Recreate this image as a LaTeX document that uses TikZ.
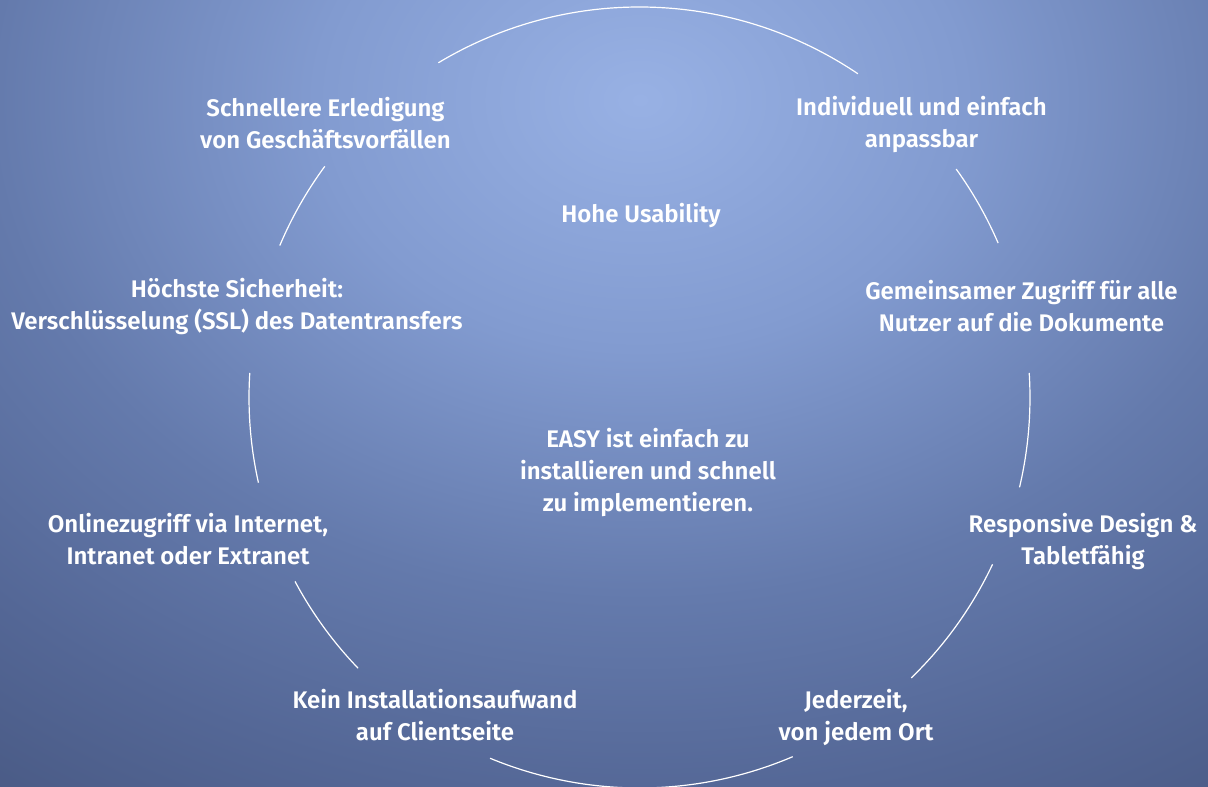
\documentclass[tikz,border=0pt]{standalone}
\usepackage{fontspec}
\setmainfont{Fira Sans SemiBold}
\definecolor{bgA}{RGB}{152,177,228}
\definecolor{bgB}{RGB}{130,155,208}
\definecolor{bgC}{RGB}{100,122,172}
\definecolor{bgD}{RGB}{84,103,150}
\definecolor{bgE}{RGB}{74,91,134}
\pgfdeclareradialshading{bgshade}{\pgfpoint{0bp}{0bp}}{color(0bp)=(bgA); color(6.25bp)=(bgB); color(12.5bp)=(bgC); color(17.5bp)=(bgD); color(21.25bp)=(bgE); color(50bp)=(bgE)}
\tikzset{
  lbl/.style={text=white, align=center, font=\fontsize{18}{24}\selectfont, inner sep=0pt},
  ring/.style={draw=white, line width=0.9pt}
}
\begin{document}
\begin{tikzpicture}[x=0.75pt,y=-0.75pt]
\useasboundingbox (0,0) rectangle (1208,787);
\begin{scope}
  \clip (0,0) rectangle (1208,787);
  \shade[shading=bgshade] (640,100) ellipse[x radius=1300, y radius=1000];
\end{scope}
\coordinate (C) at (639.5,397.5);
% ring segments (visual angles a1 -> a2, y flipped)
\foreach \a/\b in {56/121, 143.7/157.1, 176.4/192.6, 208.1/223.9, 247.5/293.1, 314.1/334.7, 346.7/363.6, 23.3/35.8}{
  \draw[ring] (C) ++(-\a:390.5) arc[start angle=-\a, end angle=-\b, radius=390.5];
}
\node[lbl] (schnell) at (325.5,123) {Schnellere Erledigung\\von Geschäftsvorfällen};
\node[lbl] (indiv) at (921.5,125) {Individuell und einfach\\anpassbar};
\node[lbl] (usab) at (641,216) {Hohe Usability};
\node[lbl] (sicher) at (237,307) {Höchste Sicherheit:\\Verschlüsselung (SSL) des Datentransfers};
\node[lbl] (gemein) at (1021.5,306) {Gemeinsamer Zugriff für alle\\Nutzer auf die Dokumente};
\node[lbl] (easy) at (648,473) {EASY ist einfach zu\\installieren und schnell\\zu implementieren.};
\node[lbl] (online) at (188,539) {Onlinezugriff via Internet,\\Intranet oder Extranet};
\node[lbl] (resp) at (1083,542) {Responsive Design \&\\Tabletfähig};
\node[lbl] (kein) at (435,715) {Kein Installationsaufwand\\auf Clientseite};
\node[lbl] (jeder) at (856,717) {Jederzeit,\\von jedem Ort};
\end{tikzpicture}
\end{document}
